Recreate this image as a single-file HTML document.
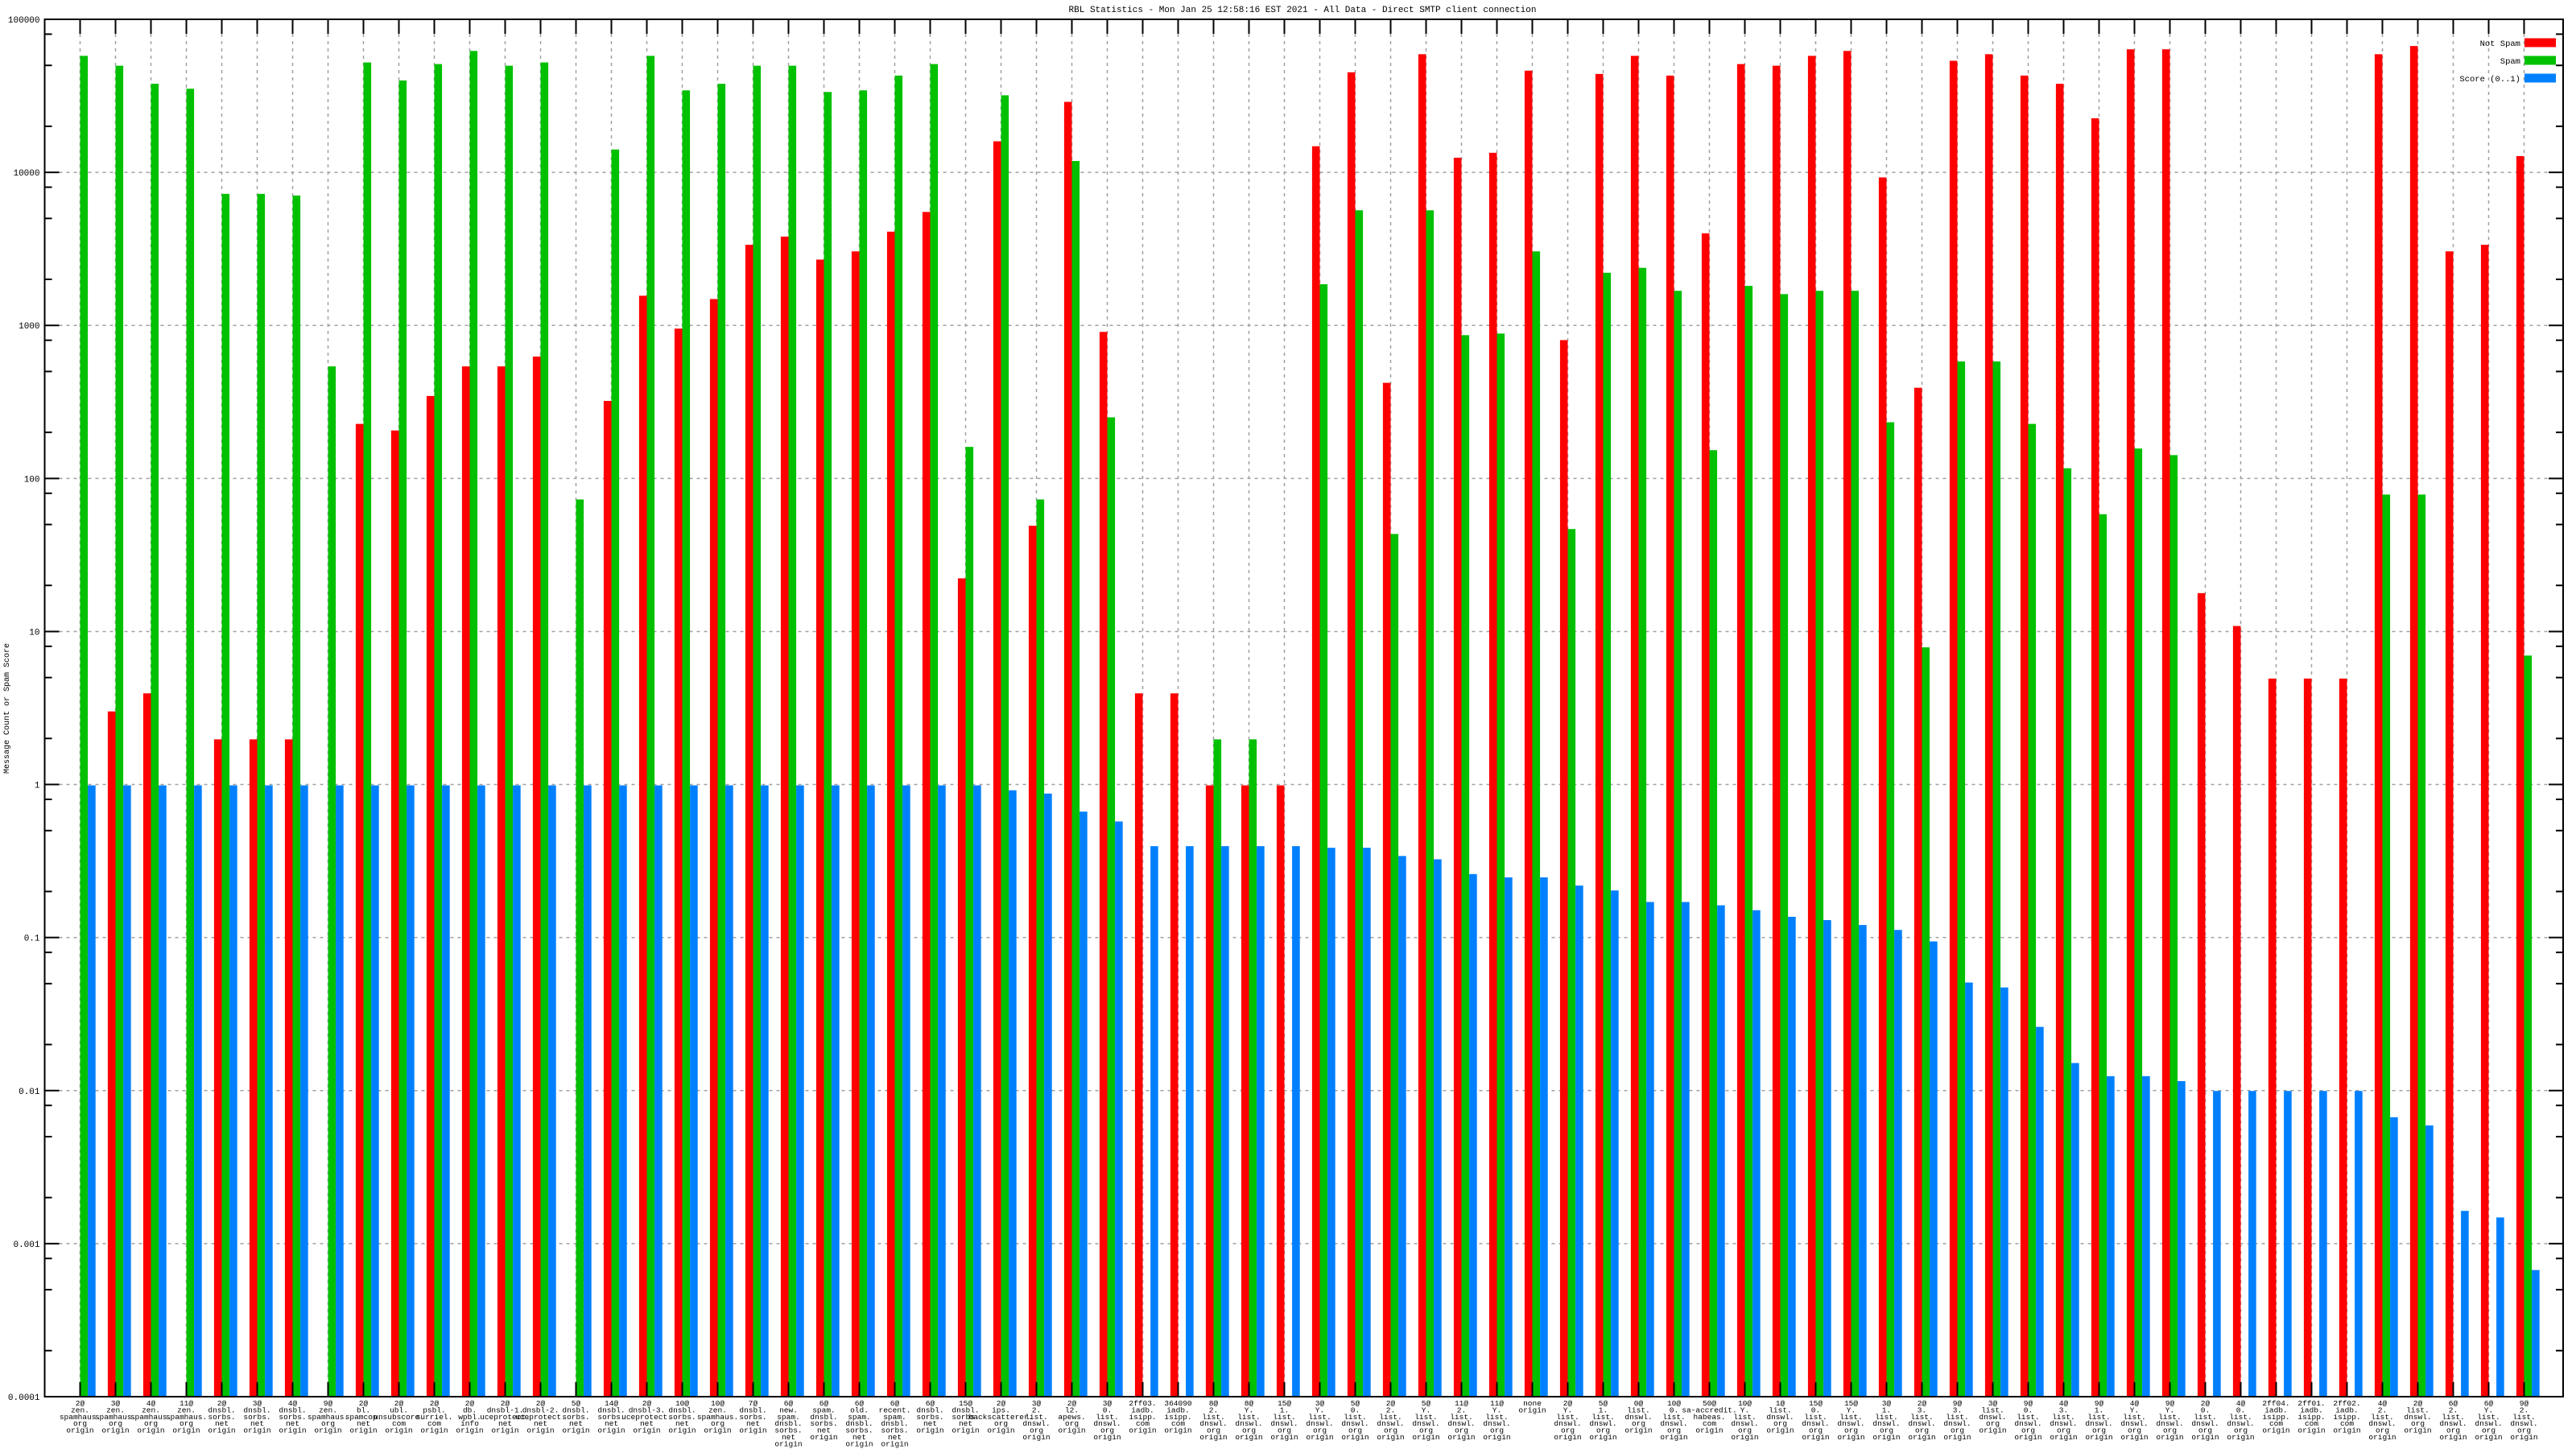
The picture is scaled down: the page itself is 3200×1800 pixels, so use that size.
<!DOCTYPE html>
<html><head><meta charset="utf-8">
<style>
html,body{margin:0;padding:0;background:#fff;}
svg{display:block;}
text{font-family:"Liberation Mono","DejaVu Sans Mono",monospace;fill:#000;}
</style></head>
<body>
<svg id="c" width="3200" height="1800" viewBox="0 0 3200 1800" xmlns="http://www.w3.org/2000/svg"></svg>
<script>
var S="http://www.w3.org/2000/svg",svg=document.getElementById('c');
function el(n,a,t){var e=document.createElementNS(S,n);for(var k in a)e.setAttribute(k,a[k]);if(t!==undefined)e.textContent=t;svg.appendChild(e);return e;}
var L=55.5,R=3184,T=24,B=1735,D=(B-T)/9;
function yv(v){return T+(5-Math.log10(v))*D;}
// grid horizontal
for(var d=-4;d<=5;d++){var y=T+(5-d)*D;
 if(d>-4&&d<5) el('line',{x1:L+18,y1:y,x2:R-18,y2:y,stroke:'#a0a0a0','stroke-width':1.5,'stroke-dasharray':'4,5'});
}
var N=70,sp=44,x0=99.5;
for(var i=0;i<N;i++){var x=x0+i*sp;
 el('line',{x1:x,y1:T+18,x2:x,y2:B,stroke:'#a0a0a0','stroke-width':1.5,'stroke-dasharray':'4,5'});}
// data: red,green,blue display tops (0=none)
var dat=[[0,34,478],[433,40,478],[422,51,478],[0,54,478],[450,118,478],[450,118,478],[450,119,478],[0,223,478],[258,38,478],[262,49,478],
[241,39,478],[223,31,478],[223,40,478],[217,38,478],[0,304,478],[244,91,478],[180,34,478],[200,55,478],[182,51,478],[149,40,478],
[144,40,478],[158,56,478],[153,55,478],[141,46,478],[129,39,478],[352,272,478],[86,58,481],[320,304,483],[62,98,494],[202,254,500],
[422,0,515],[422,0,515],[478,450,515],[478,450,515],[478,0,515],[89,173,516],[44,128,516],[233,325,521],[33,128,523],[96,204,532],
[93,203,534],[43,153,534],[207,322,539],[45,166,542],[34,163,549],[46,177,549],[142,274,551],[39,174,554],[40,179,558],[34,177,560],
[31,177,563],[108,257,566],[236,394,573],[37,220,598],[33,220,601],[46,258,625],[51,285,647],[72,313,655],[30,273,655],[30,277,658],
[361,0,664],[381,0,664],[413,0,664],[413,0,664],[413,0,664],[33,301,680],[28,301,685],[153,0,737],[149,0,741],[95,399,773]];
var cols=['#ff0000','#00c000','#0080ff'],w=9.6,k=2.041;
for(var i=0;i<N;i++){var x=x0+i*sp;
 for(var j=0;j<3;j++){var t=dat[i][j];if(!t)continue;var y=t*k;
  el('rect',{x:x+(j-1)*w,y:y,width:w,height:B-y,fill:cols[j]});}}
// axes border
el('rect',{x:L,y:T,width:R-L,height:B-T,fill:'none',stroke:'#000','stroke-width':2});
// y ticks
var labs=['0.0001','0.001','0.01','0.1','1','10','100','1000','10000','100000'];
for(var d=-4;d<=5;d++){var y=T+(5-d)*D;
 el('line',{x1:L,y1:y,x2:L+18,y2:y,stroke:'#000','stroke-width':2});
 el('line',{x1:R,y1:y,x2:R-18,y2:y,stroke:'#000','stroke-width':2});
 el('text',{x:L-6,y:y+4,'font-size':11,'text-anchor':'end'},labs[d+4]);
 if(d<5)[2,5,8].forEach(function(m){var yy=y-Math.log10(m)*D;
  el('line',{x1:L,y1:yy,x2:L+9,y2:yy,stroke:'#000','stroke-width':2});
  el('line',{x1:R,y1:yy,x2:R-9,y2:yy,stroke:'#000','stroke-width':2});});
}
// x ticks
for(var i=0;i<N;i++){var x=x0+i*sp;
 el('line',{x1:x,y1:T,x2:x,y2:T+18,stroke:'#000','stroke-width':2});
 el('line',{x1:x,y1:B,x2:x,y2:B-18,stroke:'#000','stroke-width':2});}
// labels
function dl(a,b){return a+'|'+b+'.|list.|dnswl.|org|origin';}
var lb=['2@|zen.|spamhaus.|org|origin','3@|zen.|spamhaus.|org|origin','4@|zen.|spamhaus.|org|origin','11@|zen.|spamhaus.|org|origin',
'2@|dnsbl.|sorbs.|net|origin','3@|dnsbl.|sorbs.|net|origin','4@|dnsbl.|sorbs.|net|origin','9@|zen.|spamhaus.|org|origin',
'2@|bl.|spamcop.|net|origin','2@|ubl.|unsubscore.|com|origin','2@|psbl.|surriel.|com|origin','2@|db.|wpbl.|info|origin',
'2@|dnsbl-1.|uceprotect.|net|origin','2@|dnsbl-2.|uceprotect.|net|origin','5@|dnsbl.|sorbs.|net|origin','14@|dnsbl.|sorbs.|net|origin',
'2@|dnsbl-3.|uceprotect.|net|origin','10@|dnsbl.|sorbs.|net|origin','10@|zen.|spamhaus.|org|origin','7@|dnsbl.|sorbs.|net|origin',
'6@|new.|spam.|dnsbl.|sorbs.|net|origin','6@|spam.|dnsbl.|sorbs.|net|origin','6@|old.|spam.|dnsbl.|sorbs.|net|origin','6@|recent.|spam.|dnsbl.|sorbs.|net|origin',
'6@|dnsbl.|sorbs.|net|origin','15@|dnsbl.|sorbs.|net|origin','2@|ips.|backscatterer.|org|origin',dl('3@',2),'2@|l2.|apews.|org|origin',dl('3@',0),
'2ff03.|iadb.|isipp.|com|origin','364090|iadb.|isipp.|com|origin',dl('8@',2),dl('8@','Y'),dl('15@',1),dl('3@','Y'),dl('5@',0),dl('2@',2),dl('5@','Y'),dl('11@',2),
dl('11@','Y'),'none|origin',dl('2@','Y'),dl('5@',1),'0@|list.|dnswl.|org|origin',dl('10@',0),'50@|sa-accredit.|habeas.|com|origin',dl('10@','Y'),'1@|list.|dnswl.|org|origin',dl('15@',0),
dl('15@','Y'),dl('3@',1),dl('2@',3),dl('9@',3),'3@|list.|dnswl.|org|origin',dl('9@',0),dl('4@',3),dl('9@',1),dl('4@','Y'),dl('9@','Y'),
dl('2@',0),dl('4@',0),'2ff04.|iadb.|isipp.|com|origin','2ff01.|iadb.|isipp.|com|origin','2ff02.|iadb.|isipp.|com|origin',dl('4@',2),'2@|list.|dnswl.|org|origin',dl('6@',2),dl('6@','Y'),dl('9@',2)];
for(var i=0;i<N;i++){var x=x0+i*sp,ls=lb[i].split('|');
 for(var j=0;j<ls.length;j++) el('text',{x:x,y:1746+j*8.4,'font-size':9.5,'text-anchor':'middle'},ls[j]);}
// title
el('text',{x:1618,y:15,'font-size':11,'text-anchor':'middle'},'RBL Statistics - Mon Jan 25 12:58:16 EST 2021 - All Data - Direct SMTP client connection');
// y label
el('text',{x:0,y:0,'font-size':10,'text-anchor':'middle',transform:'translate(11,880) rotate(-90)'},'Message Count or Spam Score');
// legend
[['Not Spam',53,cols[0]],['Spam',75,cols[1]],['Score (0..1)',97,cols[2]]].forEach(function(a){
 el('text',{x:3131,y:a[1]+4,'font-size':10.5,'text-anchor':'end'},a[0]);
 el('rect',{x:3136,y:a[1]-5.5,width:39,height:11,fill:a[2]});});
</script>
</body></html>
